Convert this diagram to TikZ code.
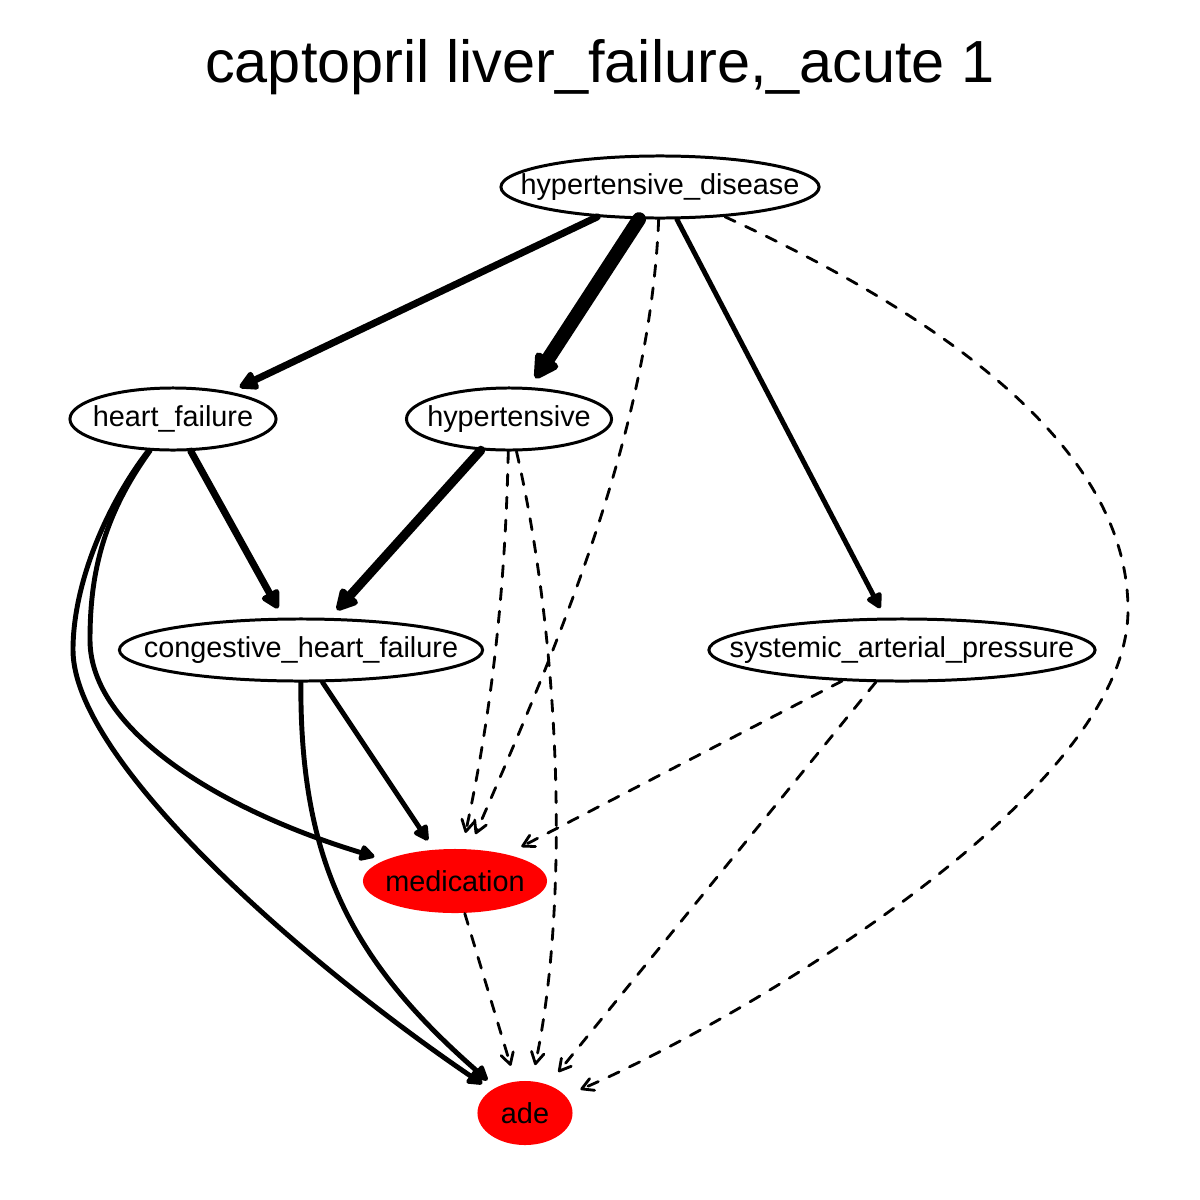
\documentclass[tikz,border=0pt]{standalone}
\usepackage{fontspec}
\setmainfont{Liberation Sans}
\usetikzlibrary{arrows.meta,shapes.geometric}
\newcommand{\nlab}[1]{\makebox[0pt]{#1}}

\tikzset{
  var/.style={draw,ellipse,line width=0.85pt,minimum height=0.62cm,inner sep=0pt,
    font=\fontsize{8.2}{10}\selectfont},
  hit/.style={ellipse,fill=red,minimum height=0.64cm,inner sep=0pt,
    font=\fontsize{8.2}{10}\selectfont},
  e1/.style={line width=1.4pt,line cap=round,-{Triangle[round,length=5pt,width=5pt]},shorten >=3pt},
  e2/.style={line width=2pt,line cap=round,-{Triangle[round,length=6pt,width=6pt]},shorten >=3pt},
  e3/.style={line width=2.6pt,line cap=round,-{Triangle[round,length=7pt,width=7pt]},shorten >=3pt},
  e4/.style={line width=4pt,line cap=round,-{Triangle[round,length=8pt,width=8.3pt]},shorten >=3pt},
  weak/.style={line width=0.8pt,line cap=round,dash pattern=on 3.2pt off 3.3pt,
    -{Straight Barb[round,length=3.2pt,width=3.6pt]},shorten >=4.5pt}
}

\begin{document}
\begin{tikzpicture}[x=0.01cm,y=-0.01cm]
  \useasboundingbox (0,0) rectangle (1200,1200);
  \node[anchor=base,font=\fontsize{16.9}{20}\selectfont] (title) at (600,82)
    {captopril liver\_failure,\_acute 1};
  % variables
  \node[var,minimum width=3.18cm] (hd) at (660,187) {\nlab{hypertensive\_disease}};
  \node[var,minimum width=2.06cm] (hf) at (173,419) {\nlab{heart\_failure}};
  \node[var,minimum width=2.05cm] (ht) at (509,419) {\nlab{hypertensive}};
  \node[var,minimum width=3.63cm] (chf) at (301,650) {\nlab{congestive\_heart\_failure}};
  \node[var,minimum width=3.86cm] (sap) at (902,650) {\nlab{systemic\_arterial\_pressure}};
  \node[hit,minimum width=1.84cm] (med) at (455,881) {\nlab{medication}};
  \node[hit,minimum width=0.95cm] (ade) at (525,1113) {\nlab{ade}};
  % edges
  \draw[e2] (hd) -- (hf);
  \draw[e4] (hd) -- (ht);
  \draw[e1] (hd) -- (sap);
  \draw[weak] (hd) .. controls (650,430) and (560,640) .. (med);
  \draw[weak] (hd) .. controls (950,320) and (1128,450) .. (1128,610)
    .. controls (1128,800) and (720,1030) .. (ade);
  \draw[e2] (hf) -- (chf);
  \draw[e1] (hf) .. controls (100,520) and (90,580) .. (90,640)
    .. controls (90,730) and (220,810) .. (med);
  \draw[e1] (hf) .. controls (110,500) and (73,580) .. (73,650)
    .. controls (73,760) and (300,960) .. (ade);
  \draw[e3] (ht) -- (chf);
  \draw[weak] (ht) .. controls (505,600) and (490,720) .. (med);
  \draw[weak] (ht) .. controls (560,640) and (570,900) .. (ade);
  \draw[e1] (chf) -- (med);
  \draw[e1] (chf) .. controls (300,860) and (350,960) .. (ade);
  \draw[weak] (sap) -- (med);
  \draw[weak] (sap) -- (ade);
  \draw[weak] (med) -- (ade);
\end{tikzpicture}
\end{document}
